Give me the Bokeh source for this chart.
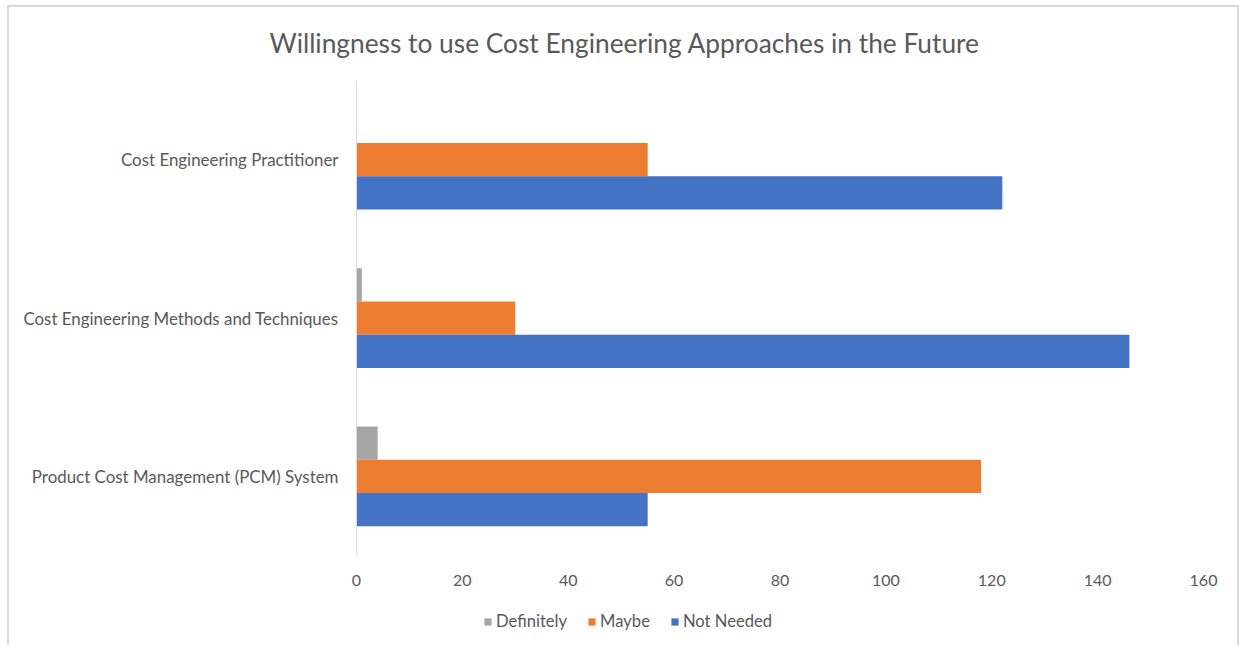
from bokeh.plotting import figure
from bokeh.models import ColumnDataSource, Range1d, FactorRange, Legend, LegendItem
from bokeh.layouts import column
from bokeh.transform import dodge
from bokeh.embed import file_html
from bokeh.resources import INLINE

categories = ["Product Cost Management (PCM) System",
              "Cost Engineering Methods and Techniques",
              "Cost Engineering Practitioner"]
definitely = [4, 1, 0]
maybe = [118, 30, 55]
not_needed = [55, 146, 122]
series_names = ["Definitely", "Maybe", "Not Needed"]
colors = ["#A5A5A5", "#ED7D31", "#4472C4"]
x_ticks = [0, 20, 40, 60, 80, 100, 120, 140, 160]

src = ColumnDataSource(dict(cat=categories, definitely=definitely, maybe=maybe, not_needed=not_needed))

FONT = "Lato"
GRAY = "#595959"
W = 1228

yr = FactorRange(*categories)
xr = Range1d(0, 160)

p = figure(width=W, height=598, y_range=yr, x_range=xr,
           output_backend="svg", toolbar_location=None,
           min_border_left=347, min_border_right=34, min_border_top=73, min_border_bottom=50)

p.title.text = "Willingness to use Cost Engineering Approaches in the Future"
p.title.text_font = FONT
p.title.text_font_size = "26.3px"
p.title.text_font_style = "normal"
p.title.text_color = GRAY
p.title.align = "left"
p.title.vertical_align = "top"
p.title.offset = -87
p.title.standoff = 39

h = 0.21
fields = ["definitely", "maybe", "not_needed"]
offsets = [h, 0, -h]
for f, off, c in zip(fields, offsets, colors):
    p.hbar(y=dodge("cat", off, range=yr), right=f, left=0, height=h, source=src,
           fill_color=c, line_color=None)

p.xgrid.grid_line_color = None
p.ygrid.grid_line_color = None
p.outline_line_color = None

p.xaxis.ticker = x_ticks
p.xaxis.axis_line_color = None
p.xaxis.major_tick_line_color = None
p.xaxis.minor_tick_line_color = None
p.xaxis.major_label_text_font = FONT
p.xaxis.major_label_text_font_size = "16px"
p.xaxis.major_label_text_color = GRAY
p.xaxis.major_label_standoff = 13

p.yaxis.axis_line_color = "#d9d9d9"
p.yaxis.major_tick_line_color = None
p.yaxis.minor_tick_line_color = None
p.yaxis.major_label_text_font = FONT
p.yaxis.major_label_text_font_size = "16.9px"
p.yaxis.major_label_text_color = GRAY
p.yaxis.major_label_standoff = 12

# legend strip below the chart (its frame is aligned with the main frame)
lg = figure(width=W, height=40, y_range=yr, x_range=xr,
            output_backend="svg", toolbar_location=None,
            min_border_left=0, min_border_right=0, min_border_top=0, min_border_bottom=0)
lg.axis.visible = False
lg.xgrid.grid_line_color = None
lg.ygrid.grid_line_color = None
lg.outline_line_color = None
items = []
for f, off, n, c in zip(fields, offsets, series_names, colors):
    r = lg.hbar(y=dodge("cat", off, range=yr), right=f, left=0, height=h, source=src,
                fill_color=c, line_color=None, visible=False)
    items.append(LegendItem(label=n, renderers=[r], index=0))
legend = Legend(items=items, orientation="horizontal", location=(127, 14))
legend.padding = 0
legend.margin = 0
legend.border_line_color = None
legend.background_fill_alpha = 0
legend.inactive_fill_alpha = 0
legend.glyph_width = 9
legend.glyph_height = 9
legend.label_standoff = 4
legend.spacing = 20
legend.label_text_font = FONT
legend.label_text_font_size = "16.6px"
legend.label_text_color = GRAY
legend.label_height = 20
lg.add_layout(legend, "center")

layout = column(p, lg, spacing=0, margin=(5, 0, 0, 7),
                styles={"border-top": "2px solid #d9d9d9", "border-left": "2px solid #d9d9d9",
                        "border-right": "2px solid #d9d9d9"})

open("out.html", "w").write(file_html(layout, INLINE))
